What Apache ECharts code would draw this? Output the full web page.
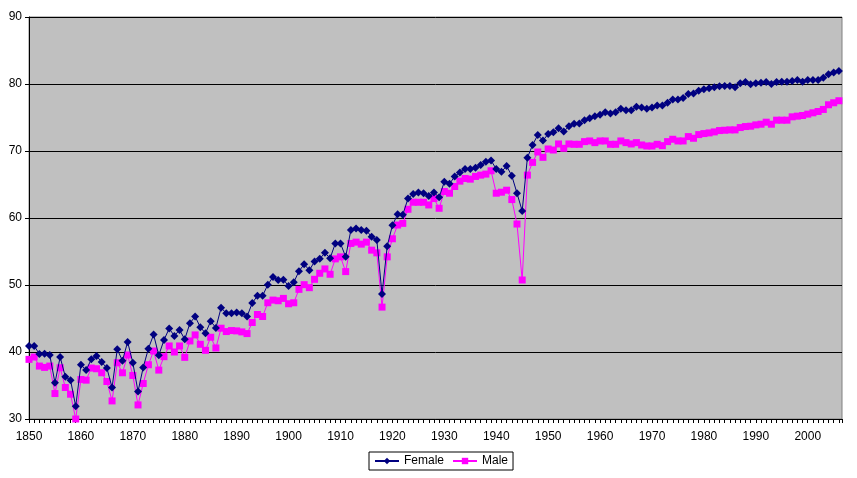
<!DOCTYPE html>
<html>
<head>
<meta charset="utf-8">
<script src="https://cdn.jsdelivr.net/npm/echarts@6/dist/echarts.min.js"></script>
<style>
html,body{margin:0;padding:0;background:#fff;}
#chart{width:857px;height:478px;}
</style>
</head>
<body>
<div id="chart"></div>
<script>
var firstYear = 1850;
var female = [
40.9,40.9,39.7,39.75,39.55,35.4,39.25,36.3,35.8,31.9,
38.1,37.3,38.9,39.4,38.5,37.6,34.7,40.4,38.7,41.5,
38.4,34.1,37.7,40.5,42.6,39.5,41.8,43.5,42.4,43.3,
41.9,44.3,45.3,43.7,42.8,44.6,43.6,46.6,45.8,45.8,
45.9,45.8,45.3,47.3,48.4,48.4,50.05,51.2,50.75,50.8,
49.85,50.4,52.05,53.1,52.2,53.5,53.9,54.8,54.0,56.2,
56.2,54.2,58.2,58.45,58.2,58.1,57.2,56.7,48.65,55.8,
58.9,60.55,60.5,62.9,63.6,63.8,63.7,63.3,63.8,63.1,
65.4,65.1,66.2,66.8,67.3,67.3,67.5,67.9,68.4,68.6,
67.3,66.9,67.75,66.3,63.7,61.05,69.0,70.9,72.4,71.55,
72.55,72.8,73.4,72.9,73.7,74.05,74.1,74.6,74.9,75.2,
75.4,75.8,75.6,75.8,76.3,76.1,76.1,76.6,76.5,76.3,
76.5,76.8,76.8,77.2,77.7,77.7,77.9,78.5,78.6,79.0,
79.2,79.35,79.5,79.65,79.7,79.7,79.5,80.1,80.3,79.95,
80.1,80.2,80.3,80.0,80.3,80.35,80.35,80.45,80.6,80.35,
80.6,80.6,80.6,80.95,81.45,81.7,81.95
];
var male = [
38.9,39.25,37.9,37.7,37.9,33.8,37.65,34.7,33.7,30.0,
35.9,35.8,37.6,37.5,36.9,35.6,32.7,38.4,36.9,39.55,
36.5,32.1,35.3,38.1,40.15,37.3,39.3,40.9,40.0,40.9,
39.2,41.65,42.55,41.15,40.25,42.2,40.6,43.55,43.05,43.2,
43.15,43.0,42.75,44.4,45.6,45.3,47.35,47.75,47.65,48.0,
47.2,47.35,49.35,50.05,49.6,50.85,51.75,52.4,51.6,53.9,
54.2,52.0,56.2,56.4,56.1,56.4,55.2,54.8,46.7,54.2,
56.9,58.95,59.2,61.3,62.35,62.35,62.35,61.95,62.9,61.45,
63.95,63.7,64.7,65.5,65.9,65.8,66.2,66.4,66.55,67.05,
63.7,63.85,64.15,62.75,59.1,50.75,66.4,68.3,69.85,69.05,
70.3,70.15,71.05,70.4,71.05,71.0,71.0,71.4,71.5,71.25,
71.5,71.5,71.0,71.0,71.5,71.25,71.05,71.25,70.9,70.75,
70.75,71.0,70.8,71.4,71.75,71.5,71.5,72.15,71.9,72.45,
72.6,72.7,72.85,73.05,73.1,73.15,73.15,73.5,73.65,73.7,
73.9,74.0,74.3,74.0,74.6,74.6,74.6,75.1,75.2,75.3,
75.5,75.7,75.9,76.2,76.9,77.2,77.5
];
var seriesNames = ['Female','Male'];

function pairs(arr){
  var out = [];
  for (var i = 0; i < arr.length; i++) out.push([firstYear + i, arr[i]]);
  return out;
}

var chart = echarts.init(document.getElementById('chart'), null, {renderer:'canvas'});
var font = 'Liberation Sans, Arial, sans-serif';
chart.setOption({
  animation: false,
  backgroundColor: '#ffffff',
  grid: {
    left: 29, right: 15, top: 17, bottom: 59,
    show: true, backgroundColor: '#C0C0C0', borderColor: '#808080', borderWidth: 1
  },
  xAxis: {
    type: 'value', min: 1850, max: 2006.6, interval: 10,
    axisLine: {show: true, onZero: false, lineStyle: {color: '#000', width: 1}},
    axisTick: {show: true, length: 4, lineStyle: {color: '#000'}},
    minorTick: {show: true, splitNumber: 10, length: 4, lineStyle: {color: '#000'}},
    splitLine: {show: false},
    axisLabel: {
      color: '#000', fontFamily: font, fontSize: 12, margin: 12,
      showMaxLabel: false,
      formatter: function(v){ return (Math.round(v) === v && v % 10 === 0) ? String(v) : ''; }
    }
  },
  yAxis: {
    type: 'value', min: 30, max: 90, interval: 10,
    axisLine: {show: true, lineStyle: {color: '#000', width: 1}},
    axisTick: {show: true, length: 4, lineStyle: {color: '#000'}},
    splitLine: {show: true, lineStyle: {color: '#000', width: 1}},
    axisLabel: {color: '#000', fontFamily: font, fontSize: 12, margin: 7}
  },
  legend: {
    show: true, left: 369, top: 452, orient: 'horizontal',
    borderColor: '#000', borderWidth: 1, padding: [3, 5, 3, 5],
    itemGap: 8, itemWidth: 24, itemHeight: 8,
    textStyle: {color: '#000', fontFamily: font, fontSize: 12},
    data: seriesNames
  },
  series: [
    {
      name: seriesNames[0], type: 'line', data: pairs(female),
      symbol: 'diamond', symbolSize: 8, showAllSymbol: true,
      lineStyle: {color: '#000080', width: 1},
      itemStyle: {color: '#000080'}, z: 3
    },
    {
      name: seriesNames[1], type: 'line', data: pairs(male),
      symbol: 'rect', symbolSize: 7, showAllSymbol: true,
      lineStyle: {color: '#FF00FF', width: 1},
      itemStyle: {color: '#FF00FF'}, z: 2
    }
  ]
});
</script>
</body>
</html>
